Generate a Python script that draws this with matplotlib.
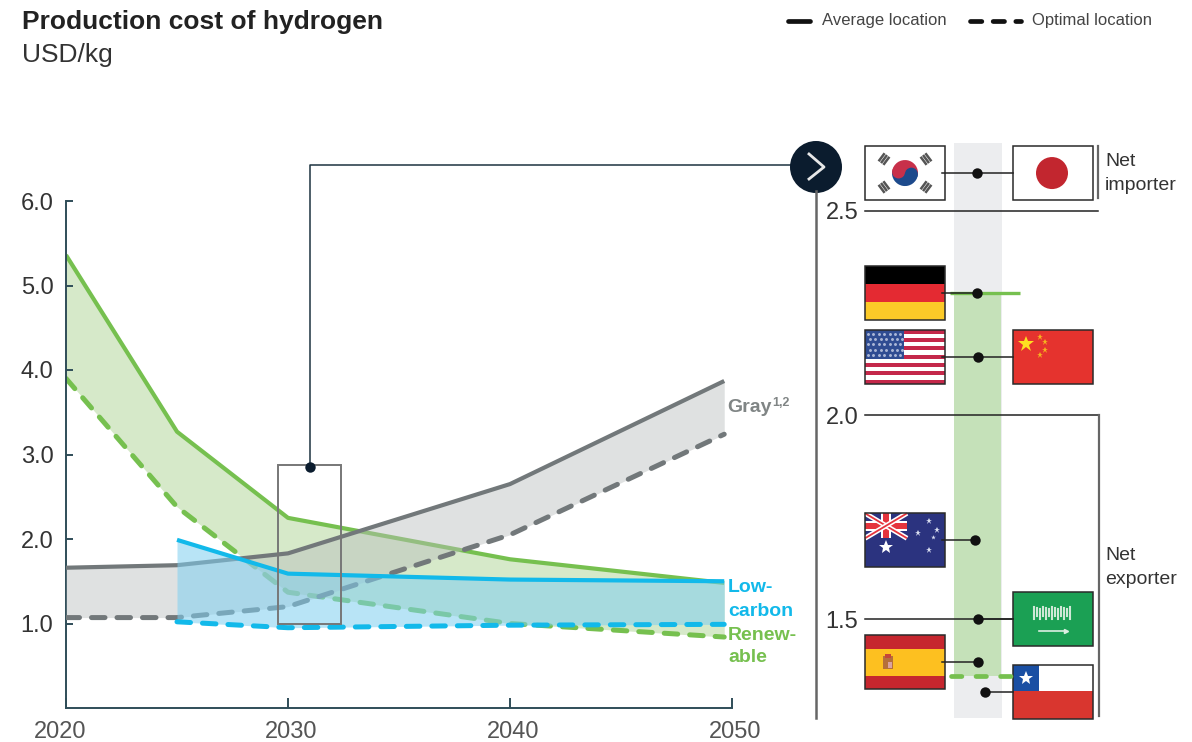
import matplotlib
matplotlib.use('Agg')
import matplotlib.pyplot as plt
from matplotlib.patches import Rectangle, Circle, Wedge
from matplotlib.transforms import ScaledTranslation

plt.rcParams['font.family'] = ['Liberation Sans', 'DejaVu Sans']

W, H = 1192, 742

# left chart
years = [2020, 2025, 2030, 2040, 2049.65]
green_avg = [5.36, 3.27, 2.25, 1.76, 1.48]
green_opt = [3.90, 2.38, 1.37, 1.00, 0.84]
gray_avg = [1.66, 1.69, 1.83, 2.65, 3.87]
gray_opt = [1.07, 1.07, 1.20, 2.05, 3.24]
blue_years = [2025, 2030, 2040, 2049.65]
blue_avg = [1.99, 1.59, 1.52, 1.50]
blue_opt = [1.02, 0.95, 0.98, 0.99]
x_ticks = [2020, 2030, 2040, 2050]
y_ticks = [1, 2, 3, 4, 5, 6]
range_2030 = [1.0, 2.87]

# right chart
country_names = ['korea', 'germany', 'usa', 'australia', 'saudi', 'spain', 'chile']
country_cost = [2.593, 2.298, 2.143, 1.693, 1.50, 1.395, 1.32]
country_x = [977, 977, 978, 975, 978, 978, 985]
right_flag = ['japan', None, 'china', None, 'saudi', None, 'chile']
left_flag = ['korea', 'germany', 'usa', 'australia', None, 'spain', None]
renew_avg_2030 = 2.30
renew_opt_2030 = 1.36

GREEN = '#76c04f'
GRAY = '#72787a'
BLUE = '#12b9ea'
AXIS = '#2f4d58'
NAVY = '#0b1c2e'
TXT = '#333333'
DASH = (0, (2.7, 2.4))


def axes_px(x0, y0, x1, y1):
    return fig.add_axes([x0 / W, 1 - y1 / H, (x1 - x0) / W, (y1 - y0) / H])


fig = plt.figure(figsize=(W / 100, H / 100), dpi=100)

# ---- left chart
ax = axes_px(66, 201, 732, 708)
ax.set_zorder(1)
ax.set_xlim(2020, 2050)
ax.set_ylim(0, 6)
ax.fill_between(years, green_opt, green_avg, color='#d6e9c9', lw=0, zorder=1)
ax.plot(years, green_avg, color=GREEN, lw=3, zorder=2, solid_capstyle='butt')
ax.plot(years, green_opt, color=GREEN, lw=3.6, ls=DASH, dash_capstyle='round', zorder=2)
ax.fill_between(years, gray_opt, gray_avg, color='#b9bdbd', alpha=0.45, lw=0, zorder=3)
ax.plot(years, gray_avg, color=GRAY, lw=3, zorder=4, solid_capstyle='butt')
ax.plot(years, gray_opt, color=GRAY, lw=3.6, ls=DASH, dash_capstyle='round', zorder=4)
ax.fill_between(blue_years, blue_opt, blue_avg, color='#7fcff0', alpha=0.55, lw=0, zorder=5)
ax.plot(blue_years, blue_avg, color=BLUE, lw=3, zorder=6, solid_capstyle='butt')
ax.plot(blue_years, blue_opt, color=BLUE, lw=3.6, ls=DASH, dash_capstyle='round', zorder=6)
ax.add_patch(Rectangle((2029.55, range_2030[0]), 2.85, range_2030[1] - range_2030[0],
                       fill=False, ec='#777777', lw=1.4, zorder=7))
ax.patch.set_visible(False)
for s in ['top', 'right']:
    ax.spines[s].set_visible(False)
for s in ['left', 'bottom']:
    ax.spines[s].set_color(AXIS)
    ax.spines[s].set_linewidth(1.4)
ax.set_xticks(x_ticks)
ax.set_yticks(y_ticks)
ax.set_yticklabels(['%.1f' % v for v in y_ticks])
ax.tick_params(axis='x', direction='in', length=7, width=1.4, color=AXIS, labelsize=17,
               labelcolor='#555555', pad=9)
ax.tick_params(axis='y', direction='in', length=5, width=1.4, color=AXIS, labelsize=17,
               labelcolor=TXT, pad=9)
for lab, off in zip(ax.get_xticklabels(), [-6, 3, 3, 3]):
    lab.set_transform(lab.get_transform() + ScaledTranslation(off / 100, 0, fig.dpi_scale_trans))

# ---- overlay in pixels, flags and furniture
ov = fig.add_axes([0, 0, 1, 1])
ov.set_zorder(2)
ov.set_xlim(0, W)
ov.set_ylim(H, 0)
ov.axis('off')


def rect(x, y, w, h, c, **kw):
    ov.add_patch(Rectangle((x, y), w, h, fc=c, ec='none', **kw))


def border(x, y, w=80, h=54):
    ov.add_patch(Rectangle((x, y), w, h, fill=False, ec='#2a2a2a', lw=1.1, zorder=5))


def flag_korea(x, y):
    rect(x, y, 80, 54, 'white')
    cx, cy = x + 40, y + 27
    ov.add_patch(Wedge((cx, cy), 13, 190, 370, fc='#c8304a', ec='none'))
    ov.add_patch(Wedge((cx, cy), 13, 10, 190, fc='#1d4a8c', ec='none'))
    ov.add_patch(Circle((cx - 6.4, cy - 1.1), 6.5, fc='#c8304a', ec='none'))
    ov.add_patch(Circle((cx + 6.4, cy + 1.1), 6.5, fc='#1d4a8c', ec='none'))
    for sx, sy in [(-1, -1), (1, -1), (-1, 1), (1, 1)]:
        for k in [-3, 0, 3]:
            mx = cx + sx * (21 + k * 0.8)
            my = cy + sy * (14 + k * 0.6)
            dx, dy = 5 * 0.6 * sx, -5 * 0.8 * sy
            ov.plot([mx - dx, mx + dx], [my - dy, my + dy], color='#555555', lw=1.8,
                    solid_capstyle='butt')


def flag_japan(x, y):
    rect(x, y, 80, 54, 'white')
    ov.add_patch(Circle((x + 39, y + 27), 16, fc='#c2262f', ec='none'))


def flag_germany(x, y):
    rect(x, y, 80, 18, '#000000')
    rect(x, y + 18, 80, 18, '#e42a32')
    rect(x, y + 36, 80, 18, '#fcca28')


def flag_usa(x, y):
    rect(x, y, 80, 54, 'white')
    for i in range(0, 13, 2):
        rect(x, y + i * 54 / 13, 80, 54 / 13, '#c4284a')
    rect(x, y, 39, 29, '#2f4c92')
    for r in range(5):
        for c in range(7):
            ov.plot(x + 3 + c * 5.4 + (r % 2) * 2, y + 4 + r * 5.4, '.', color='#aab6d6', ms=2.2)


def flag_china(x, y):
    rect(x, y, 80, 54, '#e5332e')
    ov.plot(x + 13, y + 14, '*', color='#fde021', ms=12, mew=0)
    for dx, dy in [(27, 7), (32, 12), (32, 20), (27, 25)]:
        ov.plot(x + dx, y + dy, '*', color='#f5b21f', ms=5, mew=0)


def flag_australia(x, y):
    rect(x, y, 80, 54, '#2b337f')
    w, h = 42, 25
    for x0, y0, x1, y1 in [(x, y, x + w, y + h), (x, y + h, x + w, y)]:
        ov.plot([x0, x1], [y0, y1], color='white', lw=3.6, solid_capstyle='butt')
        ov.plot([x0, x1], [y0, y1], color='#e5343d', lw=1.3, solid_capstyle='butt')
    rect(x + w / 2 - 5, y, 10, h, 'white')
    rect(x, y + h / 2 - 5, w, 10, 'white')
    rect(x + w / 2 - 3, y, 6, h, '#e5343d')
    rect(x, y + h / 2 - 3, w, 6, '#e5343d')
    ov.plot(x + 21, y + 34, '*', color='white', ms=10, mew=0)
    for dx, dy, s in [(64, 8, 5), (72, 17, 5), (53, 20, 5), (68, 24, 3.5), (64, 37, 5)]:
        ov.plot(x + dx, y + dy, '*', color='#d9def0', ms=s, mew=0)


def flag_saudi(x, y):
    rect(x, y, 80, 54, '#1ba054')
    for i in range(13):
        ov.plot([x + 21 + i * 3] * 2, [y + 15 + (i % 3), y + 27 - (i % 2) * 3], color='#cfe8d6', lw=1.5)
    ov.plot([x + 26, x + 53], [y + 39, y + 39], color='#dcefe2', lw=1.2)
    ov.plot([x + 53], [y + 39], '>', color='#dcefe2', ms=3)


def flag_spain(x, y):
    rect(x, y, 80, 54, '#c6262e')
    rect(x, y + 14, 80, 27, '#fdc020')
    rect(x + 18, y + 21, 10, 13, '#b5703a')
    rect(x + 20, y + 19, 6, 4, '#c4463a')
    rect(x + 23, y + 27, 4, 6, '#d9a3a0')


def flag_chile(x, y):
    rect(x, y, 80, 54, 'white')
    rect(x, y + 26, 80, 28, '#d9362f')
    rect(x, y, 26, 26, '#1a4fa3')
    ov.plot(x + 13, y + 13, '*', color='white', ms=10, mew=0)


flag_funcs = {'korea': flag_korea, 'japan': flag_japan, 'germany': flag_germany,
              'usa': flag_usa, 'china': flag_china, 'australia': flag_australia,
              'saudi': flag_saudi, 'spain': flag_spain, 'chile': flag_chile}

# ---- right chart
ax2 = axes_px(816, 140, W, 718)
ax2.set_zorder(3)
ax2.patch.set_visible(False)
ax2.set_xlim(816, W)
ax2.set_ylim(1.2574, 2.674)
for s in ['top', 'right', 'bottom']:
    ax2.spines[s].set_visible(False)
ax2.spines['left'].set_color('#666666')
ax2.spines['left'].set_linewidth(1.8)
ax2.spines['left'].set_bounds(1.2574, 2.55)
ax2.set_xticks([])
ax2.set_yticks([1.5, 2.0, 2.5])
ax2.set_yticklabels(['1.5', '2.0', '2.5'])
ax2.tick_params(axis='y', length=0, labelsize=17, labelcolor=TXT, pad=-30.5)

ax2.axvspan(954, 1002, ymin=0.0, ymax=0.995, color='#ecedef', lw=0, zorder=0)
ax2.fill_between([954, 1001], renew_opt_2030, renew_avg_2030, color='#c5e1b9', lw=0, zorder=1)
ax2.plot([950, 1020], [renew_avg_2030] * 2, color=GREEN, lw=2.4, zorder=2, solid_capstyle='butt')
ax2.plot([951, 1019], [renew_opt_2030] * 2, color=GREEN, lw=3.4, ls=(0, (2.2, 3.0)),
         dash_capstyle='round', zorder=6)

ax2.plot([865, 1098], [2.5, 2.5], color='#222222', lw=1.1, zorder=3)
ax2.plot([865, 1099], [2.0, 2.0], color='#222222', lw=1.1, zorder=3)
ax2.plot([1099, 1099], [2.0, 1.262], color='#666666', lw=1.6, zorder=3)
ax2.plot([865, 1013], [1.5, 1.5], color='#222222', lw=1.1, zorder=3)
ax2.plot([1098, 1098], [2.5 + 13 / 408, 2.5 + 65 / 408], color='#666666', lw=1.6, zorder=3)

fig.canvas.draw()
for name, cost, cx, lf, rf in zip(country_names, country_cost, country_x, left_flag, right_flag):
    py = H - ax2.transData.transform((900, cost))[1]
    xs = [cx, cx]
    if lf:
        flag_funcs[lf](865, py - 27)
        border(865, py - 27)
        xs[0] = 942
    if rf:
        flag_funcs[rf](1013, py - 27)
        border(1013, py - 27)
        xs[1] = 1013
    ax2.plot(xs, [cost, cost], color='#222222', lw=1.1, zorder=4)
    ax2.plot(cx, cost, 'o', color='#111111', ms=7.5, mew=0, zorder=5)

# connector to zoom circle
ov.plot([310, 310, 800], [467, 165, 165], color='#1d3340', lw=1.1)
ov.plot(310, 467, 'o', color=NAVY, ms=7.5, mew=0)
ov.add_patch(Circle((816, 167), 26, fc=NAVY, ec='none', zorder=6))
ov.plot([809, 824, 809], [154, 167, 179], color='#e8e8e8', lw=2, zorder=7)

# titles and legend
ov.text(22, 22, 'Production cost of hydrogen', fontsize=19, fontweight='bold',
        color='#222222', va='center')
ov.text(22, 55, 'USD/kg', fontsize=19, color='#333333', va='center')
ov.plot([788, 810], [21, 21], color='#111111', lw=3.4, solid_capstyle='round')
ov.text(822, 21, 'Average location', fontsize=12, color='#444444', va='center')
ov.plot([970, 1021], [21, 21], color='#111111', lw=3.4, ls=(0, (2.4, 2.4)), dash_capstyle='round')
ov.text(1032, 21, 'Optimal location', fontsize=12, color='#444444', va='center')

# series labels
ov.text(727, 408, 'Gray', fontsize=14, fontweight='bold', color='#808585', va='center')
ov.text(772, 403, '1,2', fontsize=9, fontweight='bold', color='#808585', va='center')
ov.text(728, 587, 'Low-', fontsize=14, fontweight='bold', color=BLUE, va='center')
ov.text(728, 611, 'carbon', fontsize=14, fontweight='bold', color=BLUE, va='center')
ov.text(728, 635, 'Renew-', fontsize=14, fontweight='bold', color=GREEN, va='center')
ov.text(728, 658, 'able', fontsize=14, fontweight='bold', color=GREEN, va='center')
ov.text(1105, 162, 'Net', fontsize=14, color='#333333', va='center')
ov.text(1105, 186, 'importer', fontsize=14, color='#333333', va='center')
ov.text(1105, 555, 'Net', fontsize=14, color='#333333', va='center')
ov.text(1105, 580, 'exporter', fontsize=14, color='#333333', va='center')

fig.savefig('out.png', dpi=100)
